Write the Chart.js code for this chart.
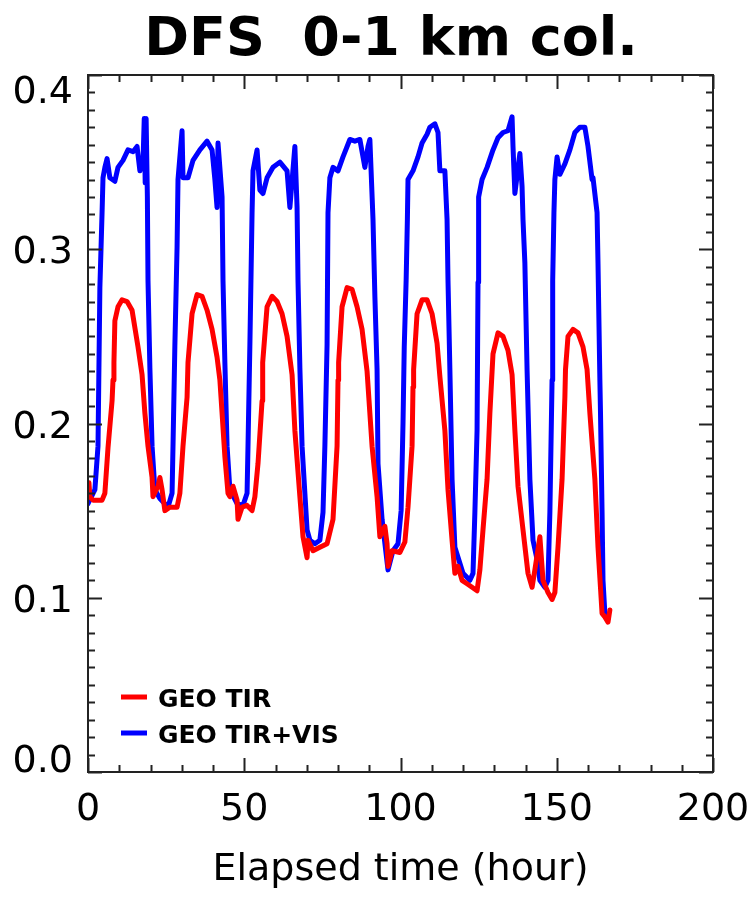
<!DOCTYPE html>
<html>
<head>
<meta charset="utf-8">
<script src="https://cdn.jsdelivr.net/npm/chart.js@4"></script>
<style>
  html, body { margin: 0; padding: 0; background: #fff; }
  #wrap { width: 753px; height: 900px; }
</style>
</head>
<body>
<div id="wrap"><canvas id="dfsChart" width="753" height="900"></canvas></div>
<script>
const TITLE = "DFS  0-1 km col.";
const X_TITLE = "Elapsed time (hour)";
const X_TICKS = [0, 50, 100, 150, 200];
const Y_TICKS = [0.0, 0.1, 0.2, 0.3, 0.4];
const SERIES_NAMES = ["GEO TIR", "GEO TIR+VIS"];

// GEO TIR (red)
const tirHours = [
  0.3, 0.6, 1.6, 4.5, 5.4, 6.4, 7.7, 8.0, 8.3, 8.6, 9.6, 10.9, 12.5, 14.1, 15.0, 16.0,
  17.3, 18.2, 19.2, 20.5, 20.8, 22.4, 23.0, 23.7, 24.6, 26.2, 28.5, 29.4, 30.4, 31.7,
  32.0, 33.3, 34.9, 36.5, 38.1, 39.7, 41.3, 42.2, 42.9, 43.8, 44.8, 45.4, 46.4, 47.7,
  48.0, 49.3, 50.9, 52.5, 53.4, 54.4, 55.7, 55.9, 57.3, 58.9, 60.5, 62.1, 63.7, 65.3,
  66.2, 67.8, 68.8, 70.1, 70.4, 72.0, 74.2, 76.5, 78.4, 79.7, 80.0, 80.2, 81.3, 82.9,
  84.5, 86.1, 87.7, 89.3, 90.9, 92.5, 93.4, 95.0, 95.7, 96.0, 97.3, 99.8, 101.4, 102.4,
  103.7, 104.0, 104.2, 105.3, 106.9, 108.5, 110.1, 111.7, 112.6, 114.2, 115.2, 116.5,
  117.4, 118.4, 119.7, 121.3, 122.9, 124.5, 125.4, 126.4, 127.7, 128.6, 129.6, 131.2,
  132.8, 134.4, 135.7, 136.6, 137.6, 139.2, 140.8, 142.1, 143.0, 144.6, 145.6, 147.2,
  148.5, 149.4, 150.4, 151.7, 152.6, 152.8, 153.6, 155.2, 156.8, 158.4, 159.7, 160.6,
  162.2, 163.2, 164.5, 165.4, 166.4, 167.0
];
const tirDfs = [
  0.166, 0.158, 0.156, 0.156, 0.160, 0.186, 0.213, 0.225, 0.235, 0.259, 0.267, 0.271, 0.270, 0.265, 0.255, 0.244,
  0.228, 0.206, 0.187, 0.169, 0.158, 0.164, 0.169, 0.162, 0.150, 0.152, 0.152, 0.160, 0.187, 0.215,
  0.235, 0.263, 0.274, 0.273, 0.265, 0.254, 0.238, 0.225, 0.206, 0.181, 0.160, 0.158, 0.164, 0.156,
  0.145, 0.152, 0.153, 0.150, 0.158, 0.177, 0.213, 0.235, 0.267, 0.273, 0.270, 0.263, 0.250, 0.228,
  0.196, 0.158, 0.135, 0.123, 0.133, 0.127, 0.129, 0.131, 0.145, 0.187, 0.225, 0.235, 0.267, 0.278,
  0.277, 0.267, 0.254, 0.230, 0.187, 0.158, 0.135, 0.141, 0.131, 0.118, 0.127, 0.126, 0.132, 0.152,
  0.187, 0.221, 0.231, 0.263, 0.271, 0.271, 0.263, 0.246, 0.227, 0.196, 0.162, 0.133,
  0.114, 0.118, 0.110, 0.108, 0.106, 0.104, 0.116, 0.139, 0.168, 0.206, 0.240, 0.252,
  0.250, 0.242, 0.228, 0.196, 0.164, 0.139, 0.114, 0.106, 0.116, 0.135, 0.110, 0.103,
  0.099, 0.103, 0.129, 0.168, 0.215, 0.231, 0.250, 0.254, 0.252, 0.244, 0.231, 0.206,
  0.168, 0.129, 0.091, 0.089, 0.086, 0.093
];

// GEO TIR+VIS (blue)
const visHours = [
  0.0, 2.2, 3.2, 3.8, 4.5, 4.8, 5.4, 6.1, 7.0, 8.6, 9.6, 11.2, 12.8, 14.4, 15.7, 16.6,
  17.6, 18.0, 18.3, 18.6, 19.0, 19.2, 19.8, 20.5, 21.4, 23.0, 25.6, 26.9, 27.2, 27.8,
  28.5, 28.8, 29.4, 30.1, 30.4, 32.0, 33.6, 35.8, 38.1, 39.7, 40.6, 41.3, 41.6, 42.9,
  43.2, 43.8, 44.5, 45.4, 47.7, 49.6, 50.9, 51.2, 51.8, 52.5, 52.8, 54.1, 55.0, 56.0,
  57.3, 59.2, 61.4, 63.7, 64.6, 66.2, 66.9, 67.2, 67.8, 68.5, 70.1, 71.0, 72.6, 74.2,
  75.2, 75.8, 76.5, 76.8, 77.4, 78.4, 80.0, 81.6, 83.8, 85.4, 87.0, 88.6, 89.6, 90.2,
  91.2, 91.8, 92.5, 92.8, 94.1, 96.0, 97.6, 99.2, 100.2, 100.8, 101.2, 101.8, 102.2,
  102.4, 104.0, 105.6, 106.9, 108.5, 109.4, 111.0, 112.0, 112.6, 114.2, 114.9, 115.2,
  115.8, 116.5, 117.4, 120.0, 122.2, 123.2, 123.8, 124.5, 124.8, 125.0, 126.1, 127.7,
  129.6, 131.2, 132.8, 134.4, 135.7, 136.0, 136.6, 138.2, 138.9, 139.2, 139.8, 140.5,
  141.4, 142.4, 143.7, 144.6, 146.2, 147.2, 147.8, 148.5, 148.7, 149.1, 149.4, 150.1,
  151.0, 152.6, 154.2, 155.8, 157.4, 159.0, 160.0, 161.3, 161.6, 162.9, 163.2, 163.8,
  164.0, 164.5, 164.8, 165.4
];
const visDfs = [
  0.154, 0.162, 0.187, 0.278, 0.321, 0.341, 0.347, 0.352, 0.341, 0.339, 0.347, 0.351, 0.357, 0.356, 0.359, 0.345,
  0.350, 0.375, 0.338, 0.375, 0.330, 0.282, 0.232, 0.187, 0.162, 0.157, 0.152, 0.160, 0.187, 0.245,
  0.301, 0.340, 0.353, 0.368, 0.341, 0.341, 0.351, 0.357, 0.362, 0.357, 0.340, 0.324, 0.361, 0.330,
  0.282, 0.235, 0.187, 0.162, 0.154, 0.153, 0.160, 0.187, 0.245, 0.321, 0.345, 0.357, 0.334, 0.332,
  0.341, 0.347, 0.350, 0.345, 0.324, 0.359, 0.324, 0.282, 0.232, 0.187, 0.139, 0.133, 0.131, 0.133,
  0.149, 0.187, 0.245, 0.321, 0.341, 0.347, 0.345, 0.353, 0.363, 0.362, 0.363, 0.347, 0.359, 0.363,
  0.317, 0.273, 0.231, 0.177, 0.145, 0.116, 0.127, 0.131, 0.150, 0.200, 0.244, 0.282, 0.317,
  0.340, 0.345, 0.353, 0.361, 0.366, 0.370, 0.372, 0.367, 0.345, 0.345, 0.317, 0.282,
  0.231, 0.168, 0.129, 0.114, 0.110, 0.114, 0.149, 0.196, 0.281, 0.330, 0.340, 0.347,
  0.357, 0.364, 0.367, 0.368, 0.376, 0.359, 0.332, 0.355, 0.336, 0.317, 0.292, 0.231,
  0.168, 0.133, 0.122, 0.110, 0.106, 0.110, 0.149, 0.225, 0.282, 0.321, 0.340, 0.353,
  0.343, 0.349, 0.357, 0.367, 0.370, 0.370, 0.359, 0.340, 0.341, 0.321, 0.292, 0.225,
  0.206, 0.149, 0.110, 0.091
];

const COLOR_TIR = "#ff0000";
const COLOR_VIS = "#0000ff";
const INK = "#222";

function toPoints(xs, ys) {
  return xs.map((x, i) => ({ x, y: ys[i] }));
}

const idlFrame = {
  id: "idlFrame",
  afterDraw(chart) {
    const { ctx, chartArea: a, scales } = chart;
    const xs = scales.x, ys = scales.y;

    ctx.save();
    ctx.strokeStyle = INK;
    ctx.lineWidth = 2;
    ctx.strokeRect(a.left, a.top, a.right - a.left, a.bottom - a.top);

    ctx.beginPath();
    for (let v = 0; v <= 200; v += 10) {
      const px = Math.round(xs.getPixelForValue(v)) + 0.5;
      const len = v % 50 === 0 ? 14 : 7;
      ctx.moveTo(px, a.bottom); ctx.lineTo(px, a.bottom - len);
      ctx.moveTo(px, a.top); ctx.lineTo(px, a.top + len);
    }
    for (let k = 0; k <= 40; k++) {
      const py = Math.round(ys.getPixelForValue(k / 100)) + 0.5;
      const len = k % 10 === 0 ? 14 : 7;
      ctx.moveTo(a.left, py); ctx.lineTo(a.left + len, py);
      ctx.moveTo(a.right, py); ctx.lineTo(a.right - len, py);
    }
    ctx.stroke();

    ctx.fillStyle = "#000";
    ctx.font = "38px 'DejaVu Sans'";
    ctx.textBaseline = "alphabetic";

    ctx.textAlign = "right";
    Y_TICKS.forEach((v, i) => {
      const py = ys.getPixelForValue(v);
      let base = py + 14;
      if (i === 0) base = py;
      if (i === Y_TICKS.length - 1) base = py + 28;
      ctx.fillText(v.toFixed(1), a.left - 15, base);
    });

    ctx.textAlign = "center";
    X_TICKS.forEach(v => {
      ctx.fillText(String(v), xs.getPixelForValue(v), a.bottom + 48);
    });
    ctx.fillText(X_TITLE, (a.left + a.right) / 2, a.bottom + 108);

    ctx.font = "bold 54px 'DejaVu Sans'";
    ctx.fillText(TITLE, 391, 55);

    const legend = [
      { name: SERIES_NAMES[0], color: COLOR_TIR, y: 697 },
      { name: SERIES_NAMES[1], color: COLOR_VIS, y: 733 }
    ];
    ctx.font = "bold 25px 'DejaVu Sans'";
    ctx.textAlign = "left";
    legend.forEach(l => {
      ctx.strokeStyle = l.color;
      ctx.lineWidth = 5;
      ctx.beginPath();
      ctx.moveTo(121, l.y); ctx.lineTo(147, l.y);
      ctx.stroke();
      ctx.fillText(l.name, 158, l.y + 10);
    });
    ctx.restore();
  }
};

const lineStyle = {
  borderWidth: 5,
  pointRadius: 0,
  tension: 0,
  fill: false,
  borderJoinStyle: "round",
  borderCapStyle: "round"
};

new Chart(document.getElementById("dfsChart"), {
  type: "line",
  data: {
    datasets: [
      { label: SERIES_NAMES[0], data: toPoints(tirHours, tirDfs), borderColor: COLOR_TIR, ...lineStyle },
      { label: SERIES_NAMES[1], data: toPoints(visHours, visDfs), borderColor: COLOR_VIS, ...lineStyle }
    ]
  },
  options: {
    responsive: false,
    animation: false,
    layout: { padding: { left: 88, right: 40, top: 75, bottom: 128 } },
    plugins: {
      legend: { display: false },
      title: { display: false },
      tooltip: { enabled: false }
    },
    scales: {
      x: { type: "linear", min: 0, max: 200, display: false },
      y: { min: 0, max: 0.4, display: false }
    }
  },
  plugins: [idlFrame]
});
</script>
</body>
</html>
